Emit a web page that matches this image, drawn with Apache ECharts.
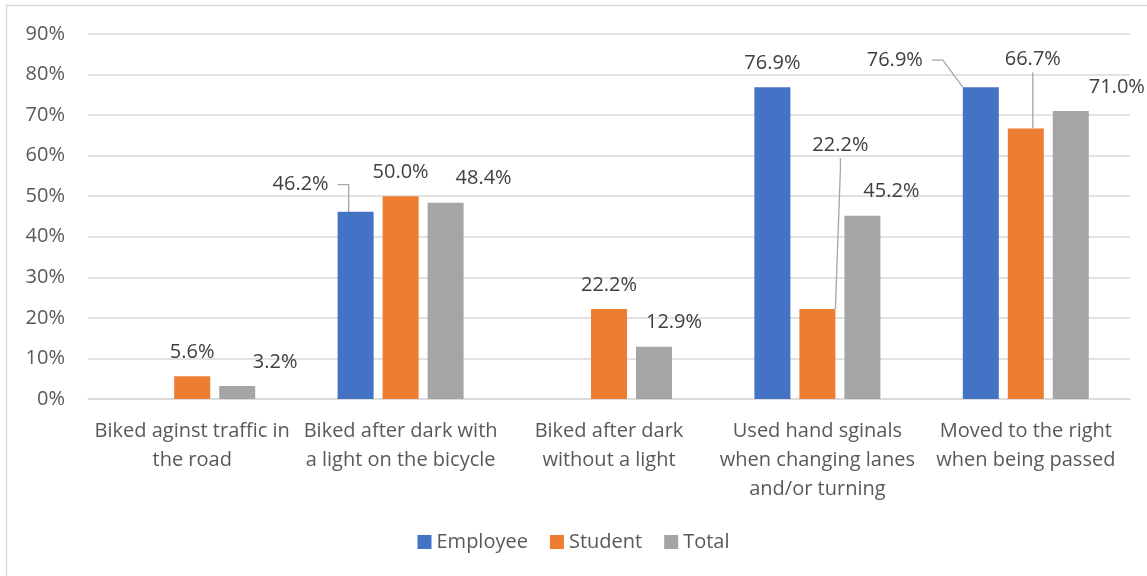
<!DOCTYPE html>
<html>
<head>
<meta charset="utf-8">
<script src="https://cdn.jsdelivr.net/npm/echarts@6/dist/echarts.min.js"></script>
<style>
html,body{margin:0;padding:0;background:#fff;}
#chart{width:1147px;height:576px;}
</style>
</head>
<body>
<div id="chart"></div>
<script>
var categories = [
  'Biked aginst traffic in\nthe road',
  'Biked after dark with\na light on the bicycle',
  'Biked after dark\nwithout a light',
  'Used hand sginals\nwhen changing lanes\nand/or turning',
  'Moved to the right\nwhen being passed'
];
var seriesNames = ['Employee', 'Student', 'Total'];
var employee = [null, 46.2, null, 76.9, 76.9];
var student = [5.6, 50.0, 22.2, 22.2, 66.7];
var total = [3.2, 48.4, 12.9, 45.2, 71.0];
var yTicks = [0, 10, 20, 30, 40, 50, 60, 70, 80, 90];

// label displacement (layout only) [dx, dy, showLeaderLine]
var labelMoves = [
  [[0,0,0], [-55,0,1], [0,0,0], [0,0,0], [-86,0,1]],
  [[0,0,0], [0,0,0], [0,0,0], [23,-137,1], [7,-42,1]],
  [[38,0,0], [38,0,0], [20,0,0], [29,0,0], [46,0,0]]
];
var colors = ['#4472C4', '#ED7D31', '#A5A5A5'];
var textColor = '#595959';
var fontFamily = 'Open Sans';

function buildData(values, si) {
  return values.map(function (v, i) {
    var lead = labelMoves[si][i][2] > 0;
    var item = { value: v, labelLine: { show: lead } };
    if (lead) item.label = { padding: [3, 9], backgroundColor: 'rgba(255,255,255,0)' };
    return item;
  });
}

function layoutLabel(params) {
  var m = labelMoves[params.seriesIndex][params.dataIndex];
  return { dx: m[0], dy: m[1] };
}

var allValues = [employee, student, total];
var series = allValues.map(function (vals, si) {
  return {
    name: seriesNames[si],
    type: 'bar',
    data: buildData(vals, si),
    barWidth: 36,
    barGap: '25%',
    itemStyle: { color: colors[si] },
    label: {
      show: true,
      position: 'top',
      distance: 14,
      color: '#404040',
      fontFamily: fontFamily,
      fontSize: 20,
      formatter: function (p) { return p.value == null ? '' : p.value.toFixed(1) + '%'; }
    },
    labelLine: {
      show: false,
      length2: 11,
      minTurnAngle: 90,
      lineStyle: { color: '#A6A6A6', width: 1.3 }
    },
    labelLayout: layoutLabel
  };
});

var chart = echarts.init(document.getElementById('chart'), null, { renderer: 'canvas' });
chart.setOption({
  animation: false,
  backgroundColor: '#fff',
  color: colors,
  grid: { left: 88, right: 17, top: 34, bottom: 177 },
  legend: {
    data: seriesNames,
    bottom: 19,
    left: 'center',
    itemWidth: 14,
    itemHeight: 14,
    itemGap: 22,
    icon: 'rect',
    textStyle: { color: textColor, fontFamily: fontFamily, fontSize: 20 }
  },
  xAxis: {
    type: 'category',
    data: categories,
    axisTick: { show: false },
    axisLine: { lineStyle: { color: '#D9D9D9', width: 1.5 } },
    axisLabel: {
      color: textColor,
      fontFamily: fontFamily,
      fontSize: 20,
      lineHeight: 29,
      margin: 18,
      interval: 0
    }
  },
  yAxis: {
    type: 'value',
    min: yTicks[0],
    max: yTicks[yTicks.length - 1],
    interval: yTicks[1] - yTicks[0],
    axisLine: { show: false },
    axisTick: { show: false },
    splitLine: { lineStyle: { color: '#D9D9D9', width: 1.5 } },
    axisLabel: {
      color: textColor,
      fontFamily: fontFamily,
      fontSize: 20,
      margin: 23,
      formatter: '{value}%'
    }
  },
  graphic: [
    { type: 'line', shape: { x1: 6.5, y1: 5, x2: 6.5, y2: 576 }, style: { stroke: '#D9D9D9', lineWidth: 1.5 } },
    { type: 'line', shape: { x1: 6, y1: 5.5, x2: 1147, y2: 5.5 }, style: { stroke: '#D9D9D9', lineWidth: 1.5 } }
  ],
  series: series
});
</script>
</body>
</html>
